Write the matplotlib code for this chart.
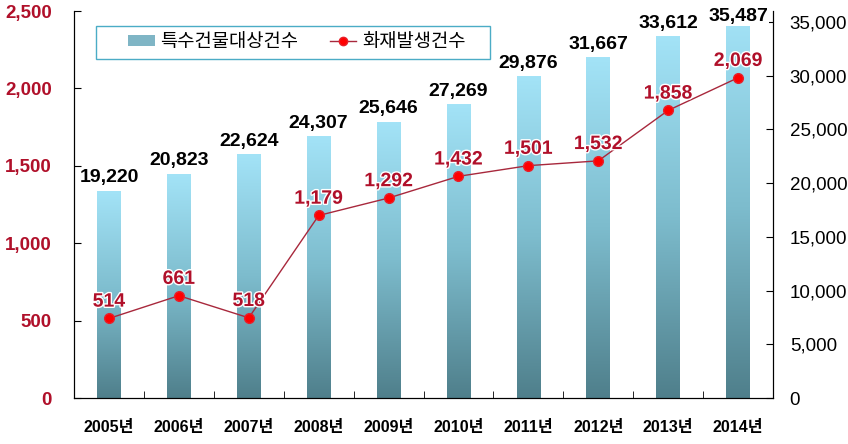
import numpy as np
import matplotlib
matplotlib.use("Agg")
import matplotlib.pyplot as plt
import matplotlib.patheffects as pe
from matplotlib.colors import LinearSegmentedColormap
from matplotlib.patches import Patch, Rectangle
from matplotlib.lines import Line2D
from matplotlib.ticker import FuncFormatter, FixedLocator

plt.rcParams['font.family'] = ['Liberation Sans', 'Noto Sans CJK KR']

years = ['2005년', '2006년', '2007년', '2008년', '2009년',
         '2010년', '2011년', '2012년', '2013년', '2014년']
buildings = [19220, 20823, 22624, 24307, 25646, 27269, 29876, 31667, 33612, 35487]
fires = [514, 661, 518, 1179, 1292, 1432, 1501, 1532, 1858, 2069]
bar_label = '특수건물대상건수'
line_label = '화재발생건수'

red = '#B0102A'
grad = LinearSegmentedColormap.from_list('bar', ['#4F7F8B', '#7DBCCD', '#A3E3F7'])

fig = plt.figure(figsize=[8.48, 4.44], dpi=100)
ax = fig.add_axes([0.0873, 0.1036, 0.8243, 0.8716])
ax2 = ax.twinx()
x = np.arange(len(years))
w = 0.34

# bars with vertical gradient (right axis)
g = np.linspace(0, 1, 256).reshape(-1, 1)
for i, (xi, v) in enumerate(zip(x, buildings)):
    ax.imshow(g, extent=[xi - w / 2, xi + w / 2, 0, v], origin='lower',
              aspect='auto', cmap=grad, zorder=2)
    last = i == len(buildings) - 1
    # top label would leave the chart, so it sits on the bar like in Excel
    ax.annotate(f'{v:,}', (xi, v), xytext=(0, -3.5 if last else 6.5),
                textcoords='offset points', ha='center', va='baseline',
                fontsize=14, fontweight='bold', color='black', zorder=5,
                annotation_clip=False,
                bbox=dict(facecolor='white', edgecolor='none', pad=0.5) if last else None)
ax.set_xlim(-0.5, len(years) - 0.5)
ax.set_ylim(0, 36000)
ax.yaxis.tick_right()
ax.yaxis.set_major_locator(FixedLocator(np.arange(0, 35001, 5000)))
ax.yaxis.set_major_formatter(FuncFormatter(lambda v, p: f'{int(v):,}'))
ax.tick_params(axis='y', direction='in', length=5, pad=12, labelsize=13.5)
ax.set_xticks(x)
ax.set_xticklabels(years, fontsize=11.5, fontweight='bold')
ax.set_xticks(np.arange(-0.5, len(years)), minor=True)
ax.tick_params(axis='x', which='major', length=0, pad=16)
ax.tick_params(axis='x', which='minor', direction='in', length=5)
ax.spines['top'].set_visible(False)

# line (left axis)
ax2.plot(x, fires, color='#A8283C', lw=1, marker='o', markersize=7,
         markerfacecolor='#FF0000', markeredgecolor='#E8202A', zorder=4)
for xi, v in zip(x, fires):
    ax2.annotate(f'{v:,}', (xi, v), xytext=(0, 8.5), textcoords='offset points',
                 ha='center', va='baseline', fontsize=14, fontweight='bold',
                 color=red, zorder=5,
                 path_effects=[pe.withStroke(linewidth=2, foreground='white')])
ax2.set_ylim(0, 2500)
ax2.yaxis.tick_left()
ax2.set_yticks(np.arange(0, 2501, 500))
ax2.yaxis.set_major_formatter(FuncFormatter(lambda v, p: f'{int(v):,}'))
ax2.tick_params(axis='y', direction='in', length=5, pad=16, labelsize=13.5,
                labelcolor=red)
for lbl in ax2.get_yticklabels():
    lbl.set_fontweight('bold')
ax2.spines['top'].set_visible(False)

# legend box
box = Rectangle((0.031, 0.876), 0.564, 0.085, transform=ax2.transAxes,
                facecolor='white', edgecolor='#4BACC6', lw=1, zorder=6)
ax2.add_patch(box)
handles = [Patch(facecolor='#7FB5C5', edgecolor='none'),
           Line2D([], [], color='#A8283C', lw=1, marker='o', markersize=6,
                  markerfacecolor='#FF0000', markeredgecolor='#E8202A')]
leg = ax2.legend(handles, [bar_label, line_label], ncol=2, loc='center',
                 bbox_to_anchor=(0.031 + 0.282 + 0.006, 0.876 + 0.0425),
                 fontsize=13.5, frameon=False, borderaxespad=0,
                 handlelength=1.4, handleheight=0.5, handletextpad=0.3,
                 columnspacing=1.7)
leg.set_zorder(7)

fig.savefig('out.png', dpi=100)
